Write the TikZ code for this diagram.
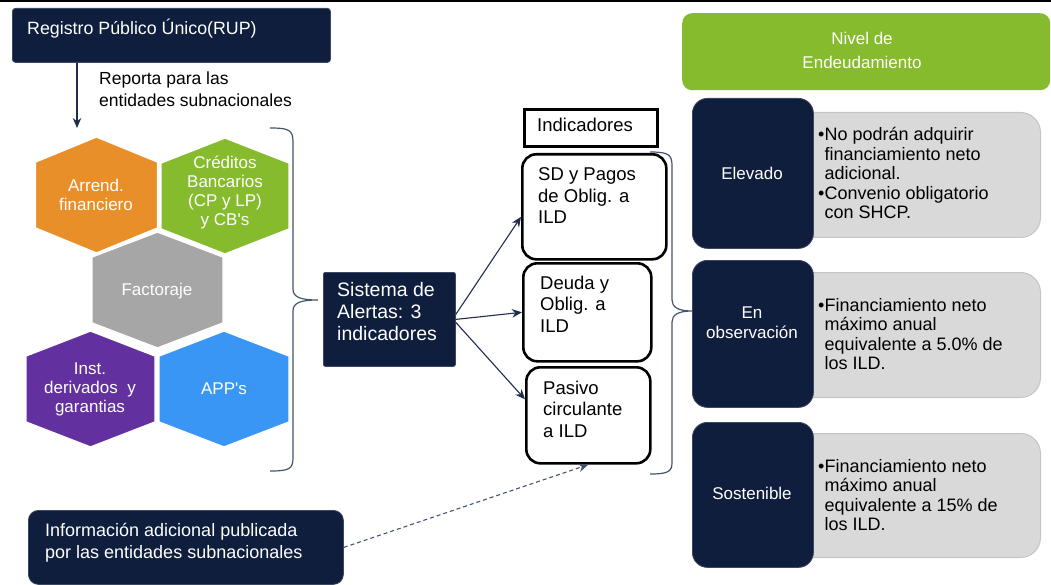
\documentclass[tikz,border=0pt]{standalone}
\usepackage{fontspec}
\setmainfont{Liberation Sans}
\usetikzlibrary{arrows.meta,calc}
\definecolor{navy}{RGB}{14,30,60}
\definecolor{navyedge}{RGB}{60,72,98}
\definecolor{hexorange}{RGB}{233,143,42}
\definecolor{hexgreen}{RGB}{134,187,46}
\definecolor{hexgray}{RGB}{166,166,166}
\definecolor{hexpurple}{RGB}{99,48,160}
\definecolor{hexblue}{RGB}{58,150,245}
\definecolor{panelgray}{RGB}{217,217,217}
\definecolor{paneledge}{RGB}{196,196,196}
\definecolor{bracecol}{RGB}{68,84,106}
\definecolor{arrowcol}{RGB}{31,45,77}
\newcommand\hexshape[4]{\filldraw[fill=#4, draw=white, line width=1.4pt, line join=round]
  (#1,#2-58) -- (#1+#3,#2-33) -- (#1+#3,#2+33) -- (#1,#2+58) -- (#1-#3,#2+33) -- (#1-#3,#2-33) -- cycle;}
\tikzset{
  navybox/.style={fill=navy, draw=navyedge, line width=0.8pt, inner sep=0pt, anchor=north west},
  panel/.style={fill=panelgray, draw=paneledge, line width=1pt, inner sep=0pt, anchor=north west, rounded corners=20pt},
  indbox/.style={draw=black, line width=2.6pt, rounded corners=14pt, fill=white, inner sep=0pt, anchor=north west},
  txt/.style={inner sep=0pt, align=left, font=\fontsize{17.5}{22}\selectfont},
  wtxt/.style={txt, text=white},
  hexlbl/.style={inner sep=0pt, align=center, text=white, font=\fontsize{17}{19}\selectfont},
  bullets/.style={inner sep=0pt, align=left, font=\fontsize{18}{19.5}\selectfont},
  lvl/.style={inner sep=0pt, align=center, text=white, font=\fontsize{17}{20}\selectfont},
  indtxt/.style={inner sep=0pt, align=left, font=\fontsize{18.5}{21.5}\selectfont},
  arr/.style={draw=arrowcol, line width=1.1pt, -{Stealth[length=10pt,width=8.5pt]}},
  darr/.style={draw=bracecol, line width=1.1pt, dash pattern=on 4pt off 3pt, -{Stealth[length=10pt,width=8.5pt]}},
  bracestyle/.style={draw=bracecol, line width=1.2pt},
}
\begin{document}
\begin{tikzpicture}[x=1pt,y=-1pt]
\useasboundingbox (0,0) rectangle (1051,585);
\fill[black] (0,0) rectangle (1051,2.4);

% RUP
\node[navybox, rounded corners=3pt, minimum width=318pt, minimum height=54pt] (rup) at (12,8) {};
\node[wtxt, anchor=west, font=\fontsize{17.8}{22}\selectfont] (ruptxt) at (27,29) {Registro Público Único(RUP)};
\coordinate (hexin) at (77,128);
\draw[arr] (rup.south -| hexin) -- (hexin);
\node[txt, anchor=west] (reporta) at (99,89) {Reporta para las\\entidades subnacionales};

% hexagons
\hexshape{96.5}{195}{61}{hexorange}
\hexshape{225}{196}{64}{hexgreen}
\hexshape{90.5}{389}{64.5}{hexpurple}
\hexshape{224}{389}{65}{hexblue}
\hexshape{157.5}{290}{65.5}{hexgray}
\node[hexlbl] (harr) at (96,195) {Arrend.\\financiero};
\node[hexlbl] (hcred) at (225,193) {Créditos\\Bancarios\\(CP y LP)\\y CB\textquotesingle s};
\node[hexlbl] (hfac) at (157,291) {Factoraje};
\node[hexlbl] (hinst) at (90,389) {Inst.\\derivados \ y\\garantias};
\node[hexlbl] (happ) at (224,389) {APP\textquotesingle s};

% brace 1
\draw[bracestyle] (270,128) .. controls (289,128) and (293,130) .. (293,142) -- (293,289)
  .. controls (293,297) and (300,300) .. (318,300) .. controls (300,300) and (293,303) .. (293,311)
  -- (293,458) .. controls (293,469) and (289,471) .. (270,471);

% Sistema
\node[navybox, rounded corners=2pt, minimum width=132pt, minimum height=94pt] (sis) at (323,272) {};
\node[wtxt, anchor=west, font=\fontsize{19.5}{22}\selectfont] (sistxt) at (337,312) {Sistema de\\Alertas: 3\\indicadores};

% Indicadores
\node[draw=black, line width=2.6pt, fill=white, inner sep=0pt, anchor=north west, minimum width=133pt, minimum height=37pt] (indh) at (523,108) {};
\node[indtxt, anchor=west] (indhtxt) at (537,125) {Indicadores};
\node[indbox, minimum width=144pt, minimum height=105pt] (sd) at (521,153) {};
\node[indtxt, anchor=west] (sdtxt) at (538,196) {SD y Pagos\\de Oblig. a\\ILD};
\node[indbox, minimum width=128pt, minimum height=98pt] (deuda) at (522,262) {};
\node[indtxt, anchor=west] (deudatxt) at (540,304) {Deuda y\\Oblig. a\\ILD};
\node[indbox, minimum width=124pt, minimum height=96pt] (pasivo) at (525,366) {};
\node[indtxt, anchor=west] (pasivotxt) at (543,409) {Pasivo\\circulante\\a ILD};

\draw[arr] ([yshift=5pt]sis.east) -- ([yshift=-10pt]sd.west);
\draw[arr] (sis.east) -- (deuda.west);
\draw[arr] ([yshift=-3pt]sis.east) -- ([yshift=16pt]pasivo.west);

% brace 2
\draw[bracestyle] (650,152) .. controls (667,152) and (672,154) .. (672,165) -- (672,300)
  .. controls (672,307) and (678,311) .. (692,311) .. controls (678,311) and (672,315) .. (672,322)
  -- (672,463) .. controls (672,472) and (667,474) .. (650,474);

% Nivel
\node[fill=hexgreen, rounded corners=10pt, inner sep=0pt, anchor=north west, minimum width=368pt, minimum height=77pt] (nivel) at (682,13) {};
\node[lvl, font=\fontsize{17}{24}\selectfont] (niveltxt) at (862,50) {Nivel de\\Endeudamiento};

% Elevado
\node[panel, minimum width=250pt, minimum height=125pt] (p1) at (790,112) {};
\node[navybox, rounded corners=15pt, minimum width=121pt, minimum height=150pt] (elev) at (692,98) {};
\node[lvl] (elevtxt) at (752,173) {Elevado};
\node[bullets, anchor=west] (b1) at (818,173) {•No podrán adquirir\\\hphantom{•}financiamiento neto\\\hphantom{•}adicional.\\•Convenio obligatorio\\\hphantom{•}con SHCP.};

% En observacion
\node[panel, minimum width=250pt, minimum height=125pt] (p2) at (790,272) {};
\node[navybox, rounded corners=15pt, minimum width=121pt, minimum height=147pt] (obs) at (692,260) {};
\node[lvl] (obstxt) at (752,323) {En\\observación};
\node[bullets, anchor=west] (b2) at (818,334) {•Financiamiento neto\\\hphantom{•}máximo anual\\\hphantom{•}equivalente a 5.0\% de\\\hphantom{•}los ILD.};

% Sostenible
\node[panel, minimum width=250pt, minimum height=124pt] (p3) at (790,433) {};
\node[navybox, rounded corners=15pt, minimum width=121pt, minimum height=145pt] (sost) at (692,422) {};
\node[lvl] (sosttxt) at (752,493) {Sostenible};
\node[bullets, anchor=west] (b3) at (818,495) {•Financiamiento neto\\\hphantom{•}máximo anual\\\hphantom{•}equivalente a 15\% de\\\hphantom{•}los ILD.};

% Informacion
\node[navybox, rounded corners=10pt, minimum width=315pt, minimum height=74pt] (info) at (28,510) {};
\node[wtxt, anchor=west, font=\fontsize{18}{22}\selectfont] (infotxt) at (45,543) {Información adicional publicada\\por las entidades subnacionales};
\draw[darr] (info.east) -- (pasivo.south);
\end{tikzpicture}
\end{document}
